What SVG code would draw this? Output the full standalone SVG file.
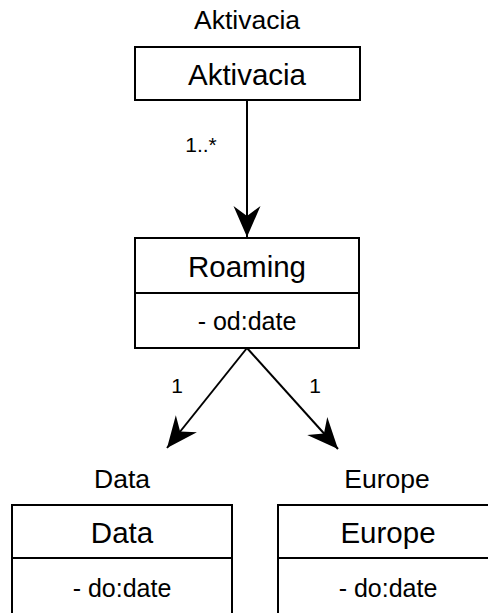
<svg xmlns="http://www.w3.org/2000/svg" width="488" height="613" viewBox="0 0 488 613">
<style>
.box{fill:#fff;stroke:#000;stroke-width:2}
.ln{stroke:#000;stroke-width:2;fill:none}
text{font-family:"Liberation Sans",Arial,sans-serif;fill:#000;text-anchor:middle}
.t{font-size:29.5px}
.l{font-size:26.5px}
.a{font-size:25px}
.m{font-size:21px}
</style>
<defs>
<marker id="arr" markerUnits="userSpaceOnUse" markerWidth="36" markerHeight="32" viewBox="-34 -16 36 32" refX="0" refY="0" orient="auto">
<path d="M0,0 L-31,-13.5 L-21,0 L-31,13.5 Z" fill="#000"/>
</marker>
</defs>
<g id="connectors">
<line class="ln" x1="247" y1="100" x2="247" y2="237" marker-end="url(#arr)"/>
<line class="ln" x1="247" y1="348" x2="167" y2="448" marker-end="url(#arr)"/>
<line class="ln" x1="247" y1="348" x2="338" y2="449" marker-end="url(#arr)"/>
<text class="m" x="201" y="152">1..*</text>
<text class="m" x="177" y="393">1</text>
<text class="m" x="315" y="393">1</text>
</g>
<g id="aktivacia">
<text class="l" x="247" y="29">Aktivacia</text>
<rect class="box" x="135" y="47" width="225" height="53"/>
<text class="t" x="247" y="85">Aktivacia</text>
</g>
<g id="roaming">
<rect class="box" x="135" y="238" width="224" height="110"/>
<line class="ln" x1="135" y1="293" x2="359" y2="293"/>
<text class="t" x="247" y="277">Roaming</text>
<text class="a" x="247" y="330">- od:date</text>
</g>
<g id="data">
<text class="l" x="122" y="488">Data</text>
<rect class="box" x="12" y="505" width="220" height="120"/>
<line class="ln" x1="12" y1="558" x2="232" y2="558"/>
<text class="t" x="122" y="543">Data</text>
<text class="a" x="122" y="597">- do:date</text>
</g>
<g id="europe">
<text class="l" x="387" y="488">Europe</text>
<rect class="box" x="278" y="505" width="220" height="120"/>
<line class="ln" x1="278" y1="558" x2="498" y2="558"/>
<text class="t" x="388" y="543">Europe</text>
<text class="a" x="388" y="597">- do:date</text>
</g>
</svg>
